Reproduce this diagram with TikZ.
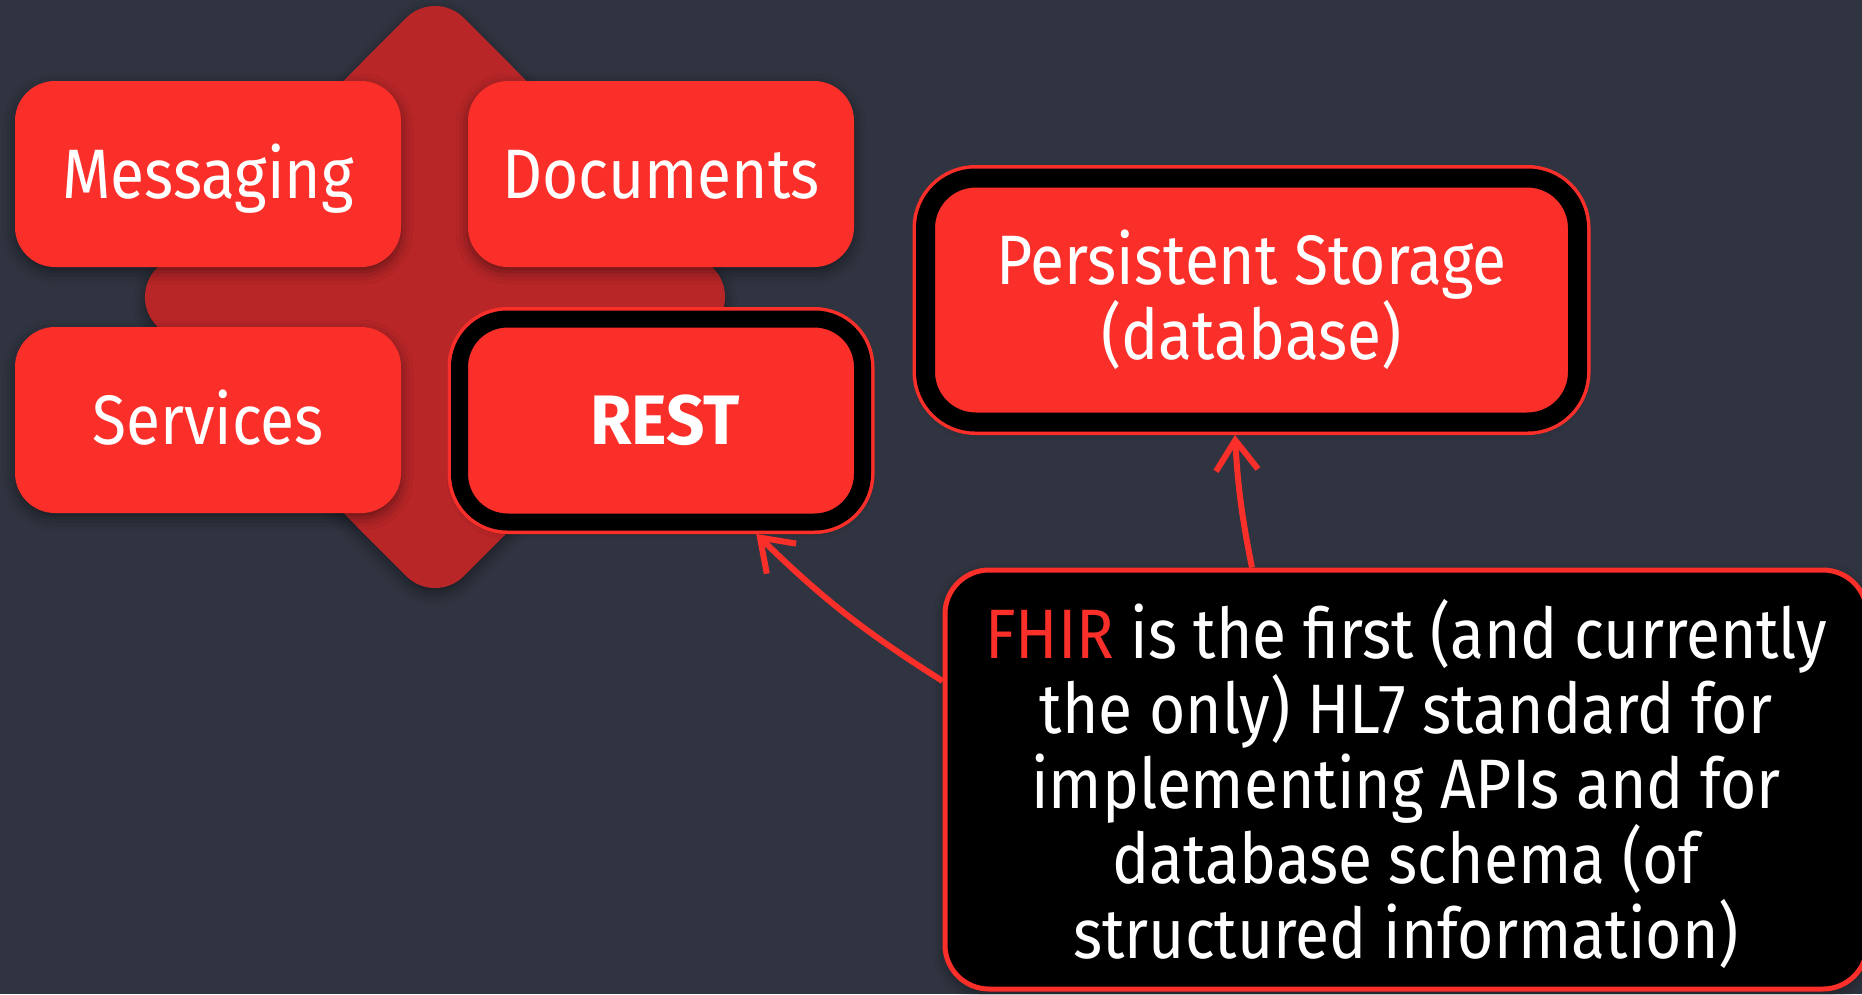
\documentclass[tikz,border=0pt]{standalone}
\usepackage{fontspec}
\setmainfont{Fira Sans}[FakeStretch=0.89, BoldFeatures={FakeStretch=0.96}]
\usetikzlibrary{arrows.meta,shadows.blur}
\definecolor{bg}{HTML}{2F3440}
\definecolor{rred}{HTML}{FB2F2A}
\definecolor{dred}{HTML}{B92628}
\begin{document}
\begin{tikzpicture}[x=1pt,y=-1pt,
  txt/.style={font=\fontsize{70}{75}\selectfont},
  softshadow/.style={blur shadow={shadow xshift=0pt,shadow yshift=-5pt,shadow blur radius=12pt,shadow opacity=45}},
  tile/.style={fill=rred, rounded corners=40pt, minimum width=386pt, minimum height=186pt,
    inner sep=0pt, text=white, txt, text height=48pt, text depth=0pt, softshadow},
  ringbox/.style={fill=rred, draw=rred, double=black, line width=3.5pt, inner sep=0pt,
    text=white, txt, align=center, softshadow},
  notebox/.style={fill=black, draw=rred, line width=5pt, rounded corners=44pt, inner sep=0pt,
    minimum width=922pt, minimum height=419pt, text=white, align=center, txt, softshadow},
  arr/.style={draw=rred, line width=6pt, -{Straight Barb[length=30pt,width=42pt]}}]
\useasboundingbox (0,0) rectangle (1862,994);
\fill[bg] (0,0) rectangle (1862,994);
% background diamond
\path[fill=dred, rounded corners=41pt, softshadow] (435,-11) -- (742,297) -- (435,605) -- (128,297) -- cycle;
% tiles
\node[tile] (msg) at (208,174) {Messaging};
\node[tile] (doc) at (661,174) {Documents};
\node[tile] (svc) at (208,420) {Services};
\node[ringbox, double distance=17pt, rounded corners=48pt, outer sep=12pt,
  minimum width=403pt, minimum height=203pt, text height=48pt, text depth=0pt,
  font=\fontsize{70}{75}\selectfont\bfseries] (rest) at (661,420.5) {\hspace*{8pt}REST};
\node[ringbox, double distance=19pt, rounded corners=50pt, outer sep=13pt,
  minimum width=652pt, minimum height=244pt] (store) at (1251.5,300) {Persistent Storage\\(database)};
% note
\node[notebox] (fhir) at (1406,779.5) {\rule{0pt}{68pt}{\color{rred}FHIR} is the first (and currently\\the only) HL7 standard for\\implementing APIs and for\\database schema (of\\structured information)};
% connectors
\draw[arr] (fhir.168.25) to[bend left=6] (rest.310.5);
\draw[arr] (fhir.126.8) to[bend left=4] (store.263);
\end{tikzpicture}
\end{document}
